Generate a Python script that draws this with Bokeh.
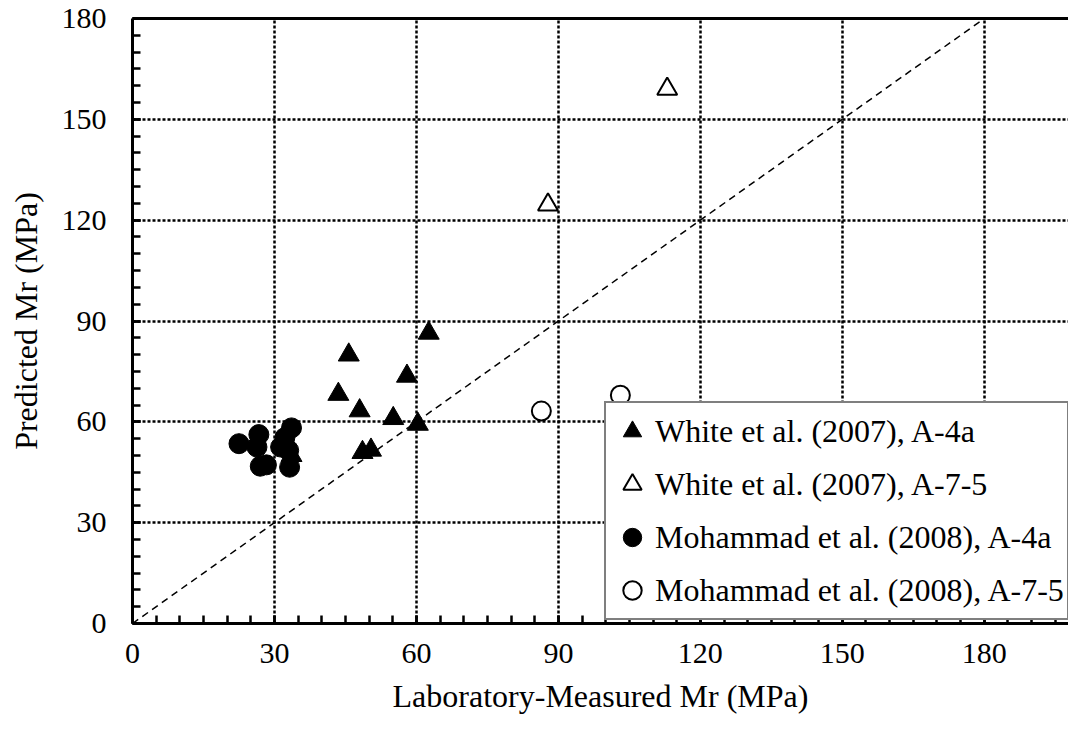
from bokeh.plotting import figure
from bokeh.models import (Range1d, LinearAxis, SingleIntervalTicker, FixedTicker,
                          Legend, LegendItem)
from bokeh.embed import file_html
from bokeh.resources import INLINE

# Laboratory-measured vs predicted resilient modulus (MPa)
white_a4a_x = [62.6, 45.7, 58.0, 43.5, 48.0, 55.1, 60.3, 48.6, 50.4, 33.6]
white_a4a_y = [86.4, 79.9, 73.6, 68.2, 63.3, 61.0, 59.3, 50.9, 51.6, 50.0]

white_a75_x = [113.0, 87.8]
white_a75_y = [159.0, 124.6]

moh_a4a_x = [22.5, 26.7, 26.3, 27.0, 28.3, 33.6, 32.2, 31.3, 33.0, 33.2]
moh_a4a_y = [53.5, 56.2, 52.5, 46.8, 47.2, 58.2, 55.3, 52.5, 51.5, 46.5]

moh_a75_x = [86.4, 103.1]
moh_a75_y = [63.2, 67.9]

equality_x = [0, 180]
equality_y = [0, 180]

tick_step = 30
FONT = "Liberation Serif"

p = figure(width=1068, height=732, output_backend="svg", toolbar_location=None,
           x_range=Range1d(0, 197.8), y_range=Range1d(0, 180),
           min_border_left=132, min_border_right=0, min_border_top=18,
           min_border_bottom=109, outline_line_color=None,
           x_axis_label="Laboratory-Measured Mr (MPa)",
           y_axis_label="Predicted Mr (MPa)")
p.background_fill_color = "white"
p.border_fill_color = "white"

for ax in (p.xaxis[0], p.yaxis[0]):
    ax.ticker = SingleIntervalTicker(interval=tick_step, num_minor_ticks=6)
    ax.axis_line_width = 3
    ax.axis_line_color = "black"
    ax.major_tick_in = 8
    ax.major_tick_out = 0
    ax.minor_tick_in = 8
    ax.minor_tick_out = 0
    ax.major_tick_line_width = 2.5
    ax.minor_tick_line_width = 2.5
    ax.major_tick_line_color = "black"
    ax.minor_tick_line_color = "black"
    ax.major_label_text_font = FONT
    ax.major_label_text_font_size = "30px"
    ax.major_label_text_color = "black"
    ax.axis_label_text_font = FONT
    ax.axis_label_text_font_size = "32px"
    ax.axis_label_text_font_style = "normal"
    ax.axis_label_text_color = "black"
    ax.axis_label_standoff = 12

p.xaxis[0].major_label_standoff = 20
p.yaxis[0].major_label_standoff = 26
p.yaxis[0].axis_label_standoff = 15

# thick frame line along the top, no ticks or labels
top = LinearAxis(ticker=FixedTicker(ticks=[]), axis_line_width=3,
                 axis_line_color="black",
                 major_tick_line_color=None, minor_tick_line_color=None,
                 major_tick_out=0, minor_tick_out=0, major_tick_in=0,
                 minor_tick_in=0, major_label_standoff=0)
p.add_layout(top, "above")

for g in (p.xgrid[0], p.ygrid[0]):
    g.ticker = SingleIntervalTicker(interval=tick_step)
    g.grid_line_color = "black"
    g.grid_line_width = 2.5
    g.grid_line_dash = "3 2"

# 1:1 line
p.line(equality_x, equality_y, line_color="black", line_width=1.5,
       line_dash="7 5")

r1 = p.scatter(white_a4a_x, white_a4a_y, marker="triangle", size=21,
               fill_color="black", line_color="black", line_width=1)
r2 = p.scatter(white_a75_x, white_a75_y, marker="triangle", size=20,
               fill_color="white", line_color="black", line_width=2)
r3 = p.scatter(moh_a4a_x, moh_a4a_y, marker="circle", size=20,
               fill_color="black", line_color="black", line_width=1)
r4 = p.scatter(moh_a75_x, moh_a75_y, marker="circle", size=19,
               fill_color="white", line_color="black", line_width=2)

legend = Legend(items=[
    LegendItem(label="White et al. (2007), A-4a", renderers=[r1]),
    LegendItem(label="White et al. (2007), A-7-5", renderers=[r2]),
    LegendItem(label="Mohammad et al. (2008), A-4a", renderers=[r3]),
    LegendItem(label="Mohammad et al. (2008), A-7-5", renderers=[r4]),
], location=(472, 3))
legend.label_text_font = FONT
legend.label_text_font_size = "32px"
legend.label_text_color = "black"
legend.glyph_width = 46
legend.glyph_height = 50
legend.label_height = 50
legend.label_standoff = 0
legend.spacing = 3
legend.padding = 3
legend.margin = 0
legend.border_line_color = "black"
legend.border_line_width = 2
legend.background_fill_color = "white"
legend.background_fill_alpha = 1.0
p.add_layout(legend, "center")

open("out.html", "w").write(file_html(p, INLINE))
